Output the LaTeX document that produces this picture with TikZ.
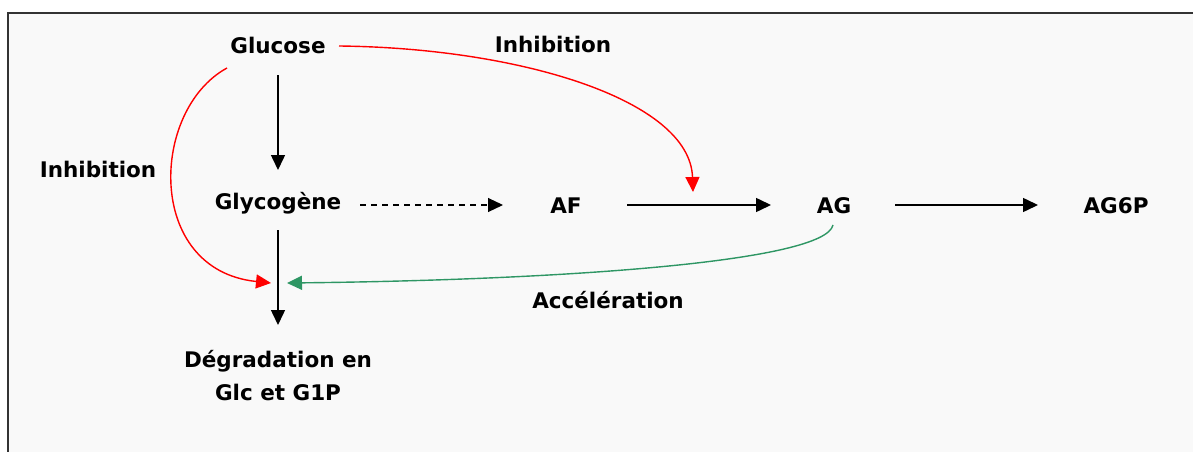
\documentclass[tikz,border=0pt]{standalone}
\usepackage{fontspec}
\setmainfont{DejaVu Sans}
\usetikzlibrary{arrows.meta}
\definecolor{accgreen}{RGB}{46,150,100}
\definecolor{panel}{RGB}{249,249,249}
\tikzset{
  label/.style={font=\bfseries\fontsize{21.5}{33}\selectfont, inner sep=3pt},
  flow/.style={line width=1.5pt, -{Triangle[length=15pt,width=14pt]}},
  inhib/.style={flow, red, line width=1.4pt},
  accel/.style={flow, accgreen, line width=1.4pt}
}

\begin{document}
\begin{tikzpicture}[x=1pt,y=-1pt]
\useasboundingbox (0,0) rectangle (1193,452);
\fill[panel] (8,13) rectangle (1193,452); % grey panel
\draw[line width=1.5pt, black!80] (8,452) -- (8,13) -- (1193,13);
% metabolites
\node[label] (glc) at (278,45) {Glucose};
\node[label] (gly) at (278,203) {Glycogène};
\node[label] (af) at (566,206) {AF};
\node[label] (ag) at (834,206) {AG};
\node[label] (ag6p) at (1116,206) {AG6P};
\node[label, align=center] (deg) at (278,376) {Dégradation en\\Glc et G1P};
% effect labels
\node[label] (inhtop) at (553,44) {Inhibition};
\node[label] (inhleft) at (98,169) {Inhibition};
\node[label] (acc) at (608,300) {Accélération};
% main pathway
\draw[flow] (278,75) -- (278,170);
\draw[flow] (278,230) -- (278,325);
\draw[flow, dashed, line width=1.1pt, dash pattern=on 6pt off 5pt] (360,205) -- (503,205);
\coordinate (afs) at (627,205); \coordinate (age) at (771,205);
\draw[flow] (afs) -- (age);
\draw[flow] (895,205) -- (1038,205);
% regulations
\coordinate (tipaf) at (693,192);
\coordinate (tipdegl) at (271,283);
\coordinate (tipdegr) at (287,283);
\draw[inhib] (339,46) .. controls (520,48) and (690,100) .. (tipaf);
\draw[inhib] (227,68) .. controls (150,110) and (145,270) .. (tipdegl);
\draw[accel] (833,225) .. controls (825,262) and (560,280) .. (tipdegr);
\end{tikzpicture}
\end{document}
